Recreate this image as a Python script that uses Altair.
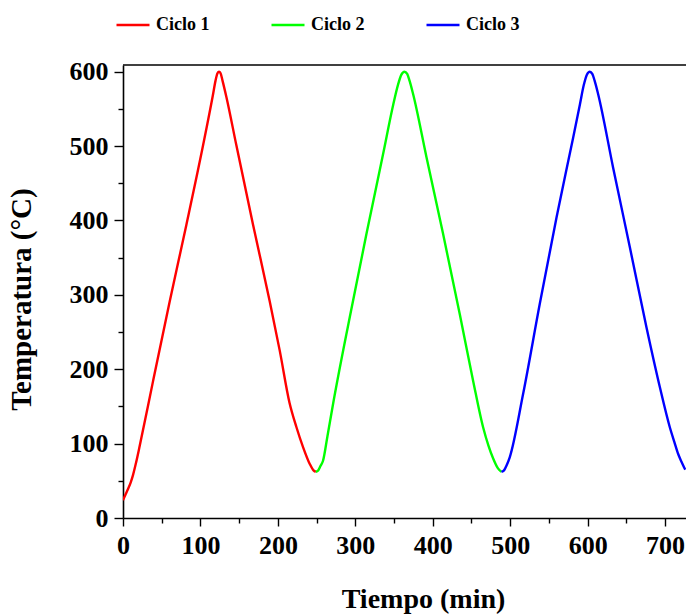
import altair as alt
import pandas as pd

# ---- data ----
series_names = ["Ciclo 1", "Ciclo 2", "Ciclo 3"]
series_colors = ["#FF0000", "#00FF00", "#0000FF"]

t1 = [0, 3, 6.5, 10, 13, 17, 21.6, 38.8, 60.3, 81.8, 103.4, 116, 119.5, 122, 124,
      126, 128.5, 133.5, 146.4, 168, 189.5, 202.4, 215, 224, 232.6, 241, 246, 249]
T1 = [24, 31, 39, 48, 58, 75, 97, 184, 291, 394, 501, 568, 588, 598, 600,
      598, 588, 566, 501, 394, 291, 225, 155, 122, 95, 73, 64, 62]

t2 = [249, 252, 255, 258.3, 264, 271.2, 292.8, 314.4, 335.8, 349, 355, 359.5, 363.5,
      367, 370, 374.6, 391.9, 413.3, 434.9, 452, 465, 472, 478, 484, 488.7]
T2 = [62, 64, 70, 77, 110, 153, 270, 382, 489, 556, 582, 596, 600,
      597, 588, 570, 485, 382, 274, 185, 122, 97, 80, 67, 62]

t3 = [488.7, 492, 495, 499.5, 516.7, 538.2, 559.8, 581.2, 590, 595, 599, 602.8,
      606, 609, 613.5, 632.9, 654.5, 676, 693.2, 706.1, 712, 716.9, 721, 724.6, 726]
T3 = [62, 64, 70, 82, 167, 288, 404, 511, 556, 582, 596, 600,
      597, 588, 570, 471, 364, 256, 176, 122, 102, 86, 76, 68, 65]

x_ticks = list(range(0, 701, 50))
y_ticks = list(range(0, 601, 50))

rows = []
for name, ts, Ts in zip(series_names, [t1, t2, t3], [T1, T2, T3]):
    for i, (a, b) in enumerate(zip(ts, Ts)):
        rows.append({"t": a, "T": b, "Ciclo": name, "o": i})
df = pd.DataFrame(rows)

FONT = "Liberation Serif"
W, H = 563, 453

lines = alt.Chart(df).mark_line(strokeWidth=2.4, interpolate="monotone", clip=True).encode(
    x=alt.X("t:Q",
            scale=alt.Scale(domain=[0, 727], nice=False, zero=False),
            axis=alt.Axis(
                values=x_ticks,
                labelExpr="datum.value % 100 === 0 ? datum.label : ''",
                tickSize={"expr": "datum.value % 100 === 0 ? 8 : 5"},
                title="Tiempo (min)",
                titleX=300, titleY=89, titleBaseline="alphabetic", titleAlign="center",
                titleAnchor="middle",
                labelPadding=6,
                labelFlush=False,
                labelOverlap=False,
            )),
    y=alt.Y("T:Q",
            scale=alt.Scale(domain=[0, 609], nice=False),
            axis=alt.Axis(
                values=y_ticks,
                labelExpr="datum.value % 100 === 0 ? datum.label : ''",
                tickSize={"expr": "datum.value % 100 === 0 ? 9 : 5"},
                title="Temperatura (°C)",
                titleX=-93, titleY=234, titleAngle=270, titleBaseline="alphabetic",
                titleAlign="center", titleAnchor="middle", titleFontSize=29,
                labelPadding=6,
                labelFlush=False,
                labelOverlap=False,
            )),
    color=alt.Color("Ciclo:N",
                    scale=alt.Scale(domain=series_names, range=series_colors),
                    legend=alt.Legend(
                        orient="none", legendX=-8, legendY=-58,
                        direction="horizontal", columns=3,
                        symbolType="stroke", symbolSize=1089, symbolStrokeWidth=2.5,
                        labelFont=FONT, labelFontSize=18, labelFontWeight="bold",
                        labelColor="black",
                        columnPadding=56, labelOffset=5, title=None, padding=0,
                    )),
    order="o:Q",
)

top_border = alt.Chart(pd.DataFrame({"a": [0]})).mark_rule(color="black", strokeWidth=1.6).encode(
    x=alt.value(0), x2=alt.value(W), y=alt.value(0)
)

chart = alt.layer(lines, top_border).properties(
    width=W, height=H,
    padding={"left": 123, "top": 65, "right": 0, "bottom": 615 - 65 - H},
    autosize=alt.AutoSizeParams(type="none"),
).configure_view(stroke=None).configure_axis(
    labelFont=FONT, labelFontSize=26, labelFontWeight="bold", labelColor="black",
    titleFont=FONT, titleFontSize=28, titleFontWeight="bold", titleColor="black",
    domainColor="black", domainWidth=1.6, tickColor="black", tickWidth=1.4,
    grid=False,
)

chart.save("out.html", embed_options={"renderer": "svg", "actions": False})
